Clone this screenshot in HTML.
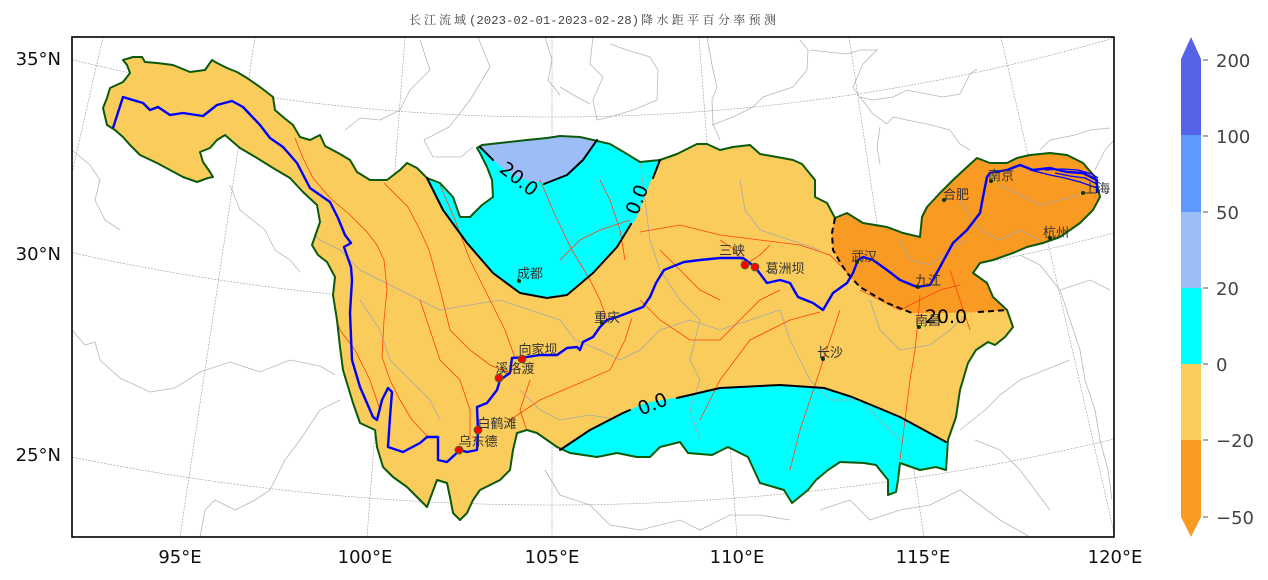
<!DOCTYPE html>
<html><head><meta charset="utf-8"><style>
html,body{margin:0;padding:0;background:#fff;}
svg{display:block;}
.ax{font-family:"DejaVu Sans","Liberation Sans",sans-serif;font-size:18px;fill:#111;}
.cb{font-family:"DejaVu Sans","Liberation Sans",sans-serif;font-size:18px;fill:#444;}
.city{font-family:"Liberation Sans","Noto Sans CJK SC",sans-serif;font-size:13px;fill:#333;}
.cl{font-family:"DejaVu Sans","Liberation Sans",sans-serif;font-size:19px;fill:#000;}
</style></head><body>
<svg width="1268" height="580" viewBox="0 0 1268 580" xmlns="http://www.w3.org/2000/svg">
<defs>
<clipPath id="plot"><rect x="72" y="37" width="1042" height="500"/></clipPath>
<clipPath id="basin"><path id="bp" d="M123,60 L133,57 L142,57 L145,62 L157,63 L173,65 L190,72 L205,70 L212,60 L217,63 L227,68 L237,72 L247,78 L260,87 L273,97 L275,110 L283,117 L293,125 L300,137 L310,140 L320,135 L325,146 L340,154 L350,160 L357,172 L370,180 L387,180 L400,170 L407,163 L417,168 L427,178 L440,183 L453,197 L460,217 L470,217 L482,205 L493,197 L492,180 L487,167 L480,153 L477,148 L482,145 L500,143 L527,140 L547,138 L560,136 L580,137 L593,140 L610,144 L627,154 L640,162 L660,160 L677,154 L697,144 L707,144 L720,150 L733,147 L750,145 L760,154 L777,157 L793,160 L802,164 L815,180 L815,197 L827,203 L835,218 L847,213 L863,223 L887,227 L903,233 L920,237 L922,217 L927,207 L940,193 L953,180 L967,167 L977,158 L990,163 L1007,163 L1017,158 L1030,155 L1050,153 L1067,155 L1083,163 L1095,177 L1100,197 L1093,210 L1080,223 L1060,237 L1043,243 L1027,247 L1013,253 L993,260 L980,263 L973,273 L987,283 L993,297 L1007,310 L1013,327 L1005,337 L995,345 L988,342 L976,350 L968,363 L960,390 L956,417 L948,440 L946,470 L936,467 L920,470 L900,463 L898,480 L896,492 L888,495 L888,480 L876,465 L864,463 L840,462 L828,470 L816,480 L808,490 L792,503 L784,490 L760,483 L748,457 L728,447 L712,455 L688,453 L680,442 L660,447 L650,457 L637,457 L617,453 L597,457 L570,453 L557,447 L547,440 L537,433 L527,430 L517,433 L513,450 L510,470 L500,480 L480,490 L473,500 L467,513 L460,520 L453,513 L450,497 L447,483 L437,480 L427,507 L420,500 L407,487 L393,477 L383,467 L377,447 L375,430 L360,423 L353,403 L343,370 L340,347 L337,320 L333,295 L335,277 L327,262 L318,255 L312,245 L320,222 L317,205 L303,192 L290,178 L273,168 L257,158 L240,148 L233,142 L225,135 L217,140 L210,148 L200,152 L203,162 L210,172 L213,177 L208,178 L197,182 L183,177 L170,170 L157,163 L140,155 L130,145 L123,137 L115,130 L107,125 L103,108 L107,98 L110,88 L123,82 L130,73 L127,65 Z"/></clipPath>
</defs>

<!-- title -->
<g font-size="12" fill="#444">
<text x="409" y="24" textLength="57" lengthAdjust="spacing" font-family="'Liberation Serif','Noto Serif CJK SC',serif">长江流域</text>
<text x="469" y="24" textLength="170" lengthAdjust="spacingAndGlyphs" font-family="'Liberation Mono',monospace">(2023-02-01-2023-02-28)</text>
<text x="641" y="24" textLength="135" lengthAdjust="spacing" font-family="'Liberation Serif','Noto Serif CJK SC',serif">降水距平百分率预测</text>
</g>

<g clip-path="url(#plot)">
<rect x="72" y="37" width="1042" height="500" fill="#fff"/>
<!-- gray province lines outside -->
<g fill="none" stroke="#b8b8b8" stroke-width="0.8">
<polyline points="478,37 490,67 470,100 457,117 449,127 424,140 433,157 461,157 473,147"/>
<polyline points="593,37 590,64 603,77 593,100 597,120 610,117 633,110 657,100 658,70 650,57 627,50 610,44"/>
<polyline points="560,87 577,97 590,104"/>
<polyline points="707,37 713,70 717,87 712,100 713,124 720,140"/>
<polyline points="712,125 733,117 753,107 763,97 793,87 807,70 808,50 800,40"/>
<polyline points="810,50 847,54 860,50 877,50 863,64 853,87 860,97 873,100 893,97 907,90 927,94 943,97 960,94 970,74 977,69"/>
<polyline points="860,97 873,114 887,124 893,117 907,120 927,124 950,130 960,144 970,150"/>
<polyline points="880,127 877,147 880,164"/>
<polyline points="545,37 552,60 548,80 560,95"/>
<polyline points="420,40 430,70 410,90 400,110 380,120 360,118 345,130"/>
<polyline points="72,330 85,345 95,342 100,360 120,378 150,392 175,388 200,372 230,362 260,372 290,360 320,366 335,375"/>
<polyline points="200,537 205,510 215,500 235,510 255,500 270,490 285,460 300,440 320,410 340,400"/>
<polyline points="545,470 560,495 590,505 610,525 640,530 680,520 700,530 730,515 760,515 790,520"/>
<polyline points="820,510 850,500 870,520 900,510 930,505 960,490 980,505 1000,520 1030,537"/>
<polyline points="1020,255 1040,265 1060,290 1070,320 1080,350 1085,380 1095,410 1100,440 1108,470 1112,500"/>
<polyline points="960,430 985,410 1000,395 1020,380 1045,370 1070,360"/>
<polyline points="1060,290 1090,280 1110,290"/>
<polyline points="975,440 1000,450 1020,470 1035,490 1050,510"/>
<polyline points="72,150 90,165 100,180 95,200 105,220 120,230"/>
<polyline points="230,185 240,210 265,230 275,250 290,260 300,272"/>
<polyline points="1040,150 1050,140 1075,135 1090,130 1110,128"/>
<polyline points="1095,170 1105,150 1114,140"/>
</g>
<!-- graticule -->
<g fill="none" stroke="#9a9a9a" stroke-width="0.6" stroke-dasharray="2,1.2">
<circle cx="552" cy="-1923" r="2040"/>
<circle cx="552" cy="-1923" r="2228"/>
<circle cx="552" cy="-1923" r="2428"/>
<line x1="103" y1="37" x2="-11" y2="537"/>
<line x1="255" y1="37" x2="180" y2="537"/>
<line x1="405" y1="37" x2="367" y2="537"/>
<line x1="552" y1="37" x2="552" y2="537"/>
<line x1="699" y1="37" x2="737" y2="537"/>
<line x1="849" y1="37" x2="924" y2="537"/>
<line x1="1001" y1="37" x2="1115" y2="537"/>
</g>

<!-- basin fill -->
<use href="#bp" fill="#f9cc5c"/>
<g clip-path="url(#basin)">
<path d="M427,178 L443,210 L467,243 L493,273 L520,293 L547,298 L567,295 L593,273 L617,247 L637,217 L650,183 L660,160 L661,110 L420,110 Z" fill="#00ffff"/>
<path d="M480,147 L490,157 L500,166 L515,176 L530,181 L547,183 L567,175 L583,160 L597,140 L600,110 L470,110 Z" fill="#9dbdf7"/>
<path d="M555,460 L560,450 L590,430 L623,413 L645,403 L680,397 L720,388 L780,385 L824,388 L852,397 L900,417 L946,442 L960,450 L960,530 L540,530 Z" fill="#00ffff"/>
<path d="M835,140 L835,218 L832,233 L833,250 L840,262 L847,273 L860,287 L887,303 L910,313 L947,313 L980,312 L1010,310 L1040,310 L1120,200 L1120,140 Z" fill="#f99a22"/>
<!-- gray lines inside -->
<g fill="none" stroke="#a8a8a8" stroke-width="0.8">
<polyline points="300,220 320,240 340,250 360,270 390,285 420,300 440,310 470,305 500,300 530,310 560,320"/>
<polyline points="560,320 575,340 600,350 620,360 640,350 660,330 690,320 720,330 750,320 780,310"/>
<polyline points="640,160 645,200 650,240 660,270 680,300 700,320"/>
<polyline points="700,320 690,360 700,380 690,410 700,440"/>
<polyline points="780,310 790,340 800,360 810,380 830,400 860,400 880,420 900,440"/>
<polyline points="870,300 880,330 900,350 930,345 950,330 965,315"/>
<polyline points="960,200 980,230 1000,240 1020,230 1040,240"/>
<polyline points="1000,185 1020,195 1040,205 1060,200 1080,195"/>
<polyline points="900,240 910,260 930,265 950,250 965,240"/>
<polyline points="360,300 380,330 390,360 410,380 430,400 440,420"/>
<polyline points="520,390 540,410 560,420 590,415 620,420"/>
<polyline points="740,180 745,210 760,230 790,240 820,250"/>
</g>
<!-- red tributaries -->
<g fill="none" stroke="#ff4010" stroke-width="0.8">
<polyline points="295,138 303,158 313,178 330,198 350,215 367,232 377,245 384,260 387,290 384,320 382,357 390,380 400,400 412,420 428,437"/>
<polyline points="384,183 408,207 420,230 429,250 441,293 450,330 470,350 490,365 510,373"/>
<polyline points="440,185 455,220 470,260 490,300 505,330 515,358"/>
<polyline points="540,180 555,215 572,250 590,280 600,300 607,320"/>
<polyline points="510,420 540,400 575,385 610,370 625,340 632,318"/>
<polyline points="640,232 680,225 720,235 760,240 800,245 830,255 850,275"/>
<polyline points="790,470 800,430 810,400 820,370 830,340 840,310"/>
<polyline points="700,420 720,380 750,340 790,320 820,312"/>
<polyline points="900,460 905,420 910,380 915,350 918,320 920,295"/>
<polyline points="330,300 340,330 355,350 370,380 380,410"/>
<polyline points="420,300 430,330 440,360 460,380 470,410 470,440"/>
<polyline points="560,260 580,240 600,230 630,220"/>
<polyline points="640,300 660,320 690,340 720,340 740,320 760,300 780,290"/>
<polyline points="720,240 735,250 745,265 760,255 770,245"/>
<polyline points="860,290 880,300 900,310 920,300 940,290 960,285"/>
<polyline points="600,180 610,200 620,230 625,260"/>
<polyline points="660,250 680,270 700,290 720,300"/>
<polyline points="530,380 520,410 530,440"/>
<polyline points="950,270 960,300 970,330"/>
</g>
</g>

<!-- basin outline -->
<use href="#bp" fill="none" stroke="#0b5a0b" stroke-width="2" stroke-linejoin="round"/>

<!-- contour lines -->
<g fill="none" stroke="#000" stroke-width="2" stroke-linejoin="round" stroke-linecap="round">
<polyline points="427,178 443,210 467,243 493,273 520,293 547,298 567,295 593,273 617,247 631,224"/>
<polyline points="653,178 660,160"/>
<polyline points="597,140 583,160 567,175 544,184"/>
<polyline points="493,160 480,147"/>
<polyline points="560,450 590,430 623,413 630,410"/>
<polyline points="677,398 720,388 780,385 824,388 852,397 900,417 946,442"/>
<polyline points="835,218 832,233 833,250 840,262 847,273 860,287 887,303 912,313" stroke-dasharray="6,4" stroke-linecap="butt"/>
<polyline points="978,312 1008,310" stroke-dasharray="6,4" stroke-linecap="butt"/>
</g>
<text class="cl" x="0" y="0" text-anchor="middle" transform="translate(643,202) rotate(-68)">0.0</text>
<text class="cl" x="0" y="0" text-anchor="middle" transform="translate(515,184) rotate(38)">20.0</text>
<text class="cl" x="0" y="0" text-anchor="middle" transform="translate(655,410) rotate(-22)">0.0</text>
<text class="cl" x="946" y="323" text-anchor="middle">20.0</text>

<!-- Yangtze river -->
<g fill="none" stroke="#0000ff" stroke-width="2.4" stroke-linejoin="round">
<polyline points="113,128 123,97 143,103 150,110 158,107 170,115 183,113 203,116 217,105 232,101 243,107 260,125 270,138 283,147 297,163 310,188 330,202 338,218 345,235 351,243 344,247 351,267 352,280 350,313 352,360 360,387 373,417 377,420 382,400 388,388 392,392 390,417 388,447 403,452 420,443 427,437 438,437 438,460 447,462 460,450 467,452 477,450 478,430 477,407 487,403 497,390 500,380 510,373 512,358 527,357 540,355 557,355 567,348 577,347 580,350 583,342 593,337 600,327 607,320 617,317 630,312 643,307 650,297 656,283 664,270 684,262 700,260 720,258 743,258 755,267 767,283 780,280 790,283 798,297 813,303 823,310 833,293 847,283 853,273 858,260 863,257 873,260 887,270 900,280 917,287 930,285 940,267 953,243 967,230 980,213 983,197 987,177 990,173 1007,170 1020,165 1033,170 1050,168 1067,172 1083,173 1097,180 1097,193"/>
</g>
<g fill="none" stroke="#0000ff" stroke-width="1.3">
<polyline points="1030,170 1050,175 1065,178 1080,182 1097,188"/>
<polyline points="1045,170 1062,169 1078,170 1092,174 1098,178"/>
<polyline points="1055,173 1070,176 1085,178 1097,184"/>
</g>

<!-- cities -->
<g fill="#053805">
<circle cx="519" cy="281" r="2"/><circle cx="602" cy="323" r="2"/>
<circle cx="857" cy="262" r="2"/><circle cx="918" cy="287" r="2"/>
<circle cx="991" cy="181" r="2"/><circle cx="944" cy="200" r="2"/>
<circle cx="1083" cy="193" r="2"/><circle cx="1050" cy="238" r="2"/>
<circle cx="919" cy="327" r="2"/><circle cx="823" cy="359" r="2"/>
</g>
<g fill="#ff0000" stroke="#2a7a2a" stroke-width="0.8">
<circle cx="522" cy="359" r="4"/><circle cx="499" cy="378" r="4"/>
<circle cx="478" cy="430" r="4"/><circle cx="459" cy="450" r="4"/>
<circle cx="745" cy="265" r="4"/><circle cx="755" cy="267" r="4"/>
</g>
<g class="city" text-anchor="middle">
<text x="530" y="278">成都</text>
<text x="607" y="322">重庆</text>
<text x="538" y="354">向家坝</text>
<text x="515" y="373">溪洛渡</text>
<text x="497" y="428">白鹤滩</text>
<text x="478" y="446">乌东德</text>
<text x="732" y="255">三峡</text>
<text x="785" y="273">葛洲坝</text>
<text x="864" y="261">武汉</text>
<text x="928" y="285">九江</text>
<text x="928" y="325">南昌</text>
<text x="830" y="357">长沙</text>
<text x="956" y="199">合肥</text>
<text x="1001" y="180">南京</text>
<text x="1097" y="193">上海</text>
<text x="1056" y="237">杭州</text>
</g>
</g>
<!-- frame -->
<rect x="72" y="37" width="1042" height="500" fill="none" stroke="#000" stroke-width="1.6"/>

<!-- axis labels -->
<g class="ax">
<text x="61" y="65" text-anchor="end">35°N</text>
<text x="61" y="260" text-anchor="end">30°N</text>
<text x="61" y="461" text-anchor="end">25°N</text>
<text x="180" y="563" text-anchor="middle">95°E</text>
<text x="365" y="563" text-anchor="middle">100°E</text>
<text x="552" y="563" text-anchor="middle">105°E</text>
<text x="737" y="563" text-anchor="middle">110°E</text>
<text x="923" y="563" text-anchor="middle">115°E</text>
<text x="1115" y="563" text-anchor="middle">120°E</text>
</g>

<!-- colorbar -->
<polygon points="1181,59 1191,37 1201,59" fill="#5563e8"/>
<rect x="1181" y="59" width="20" height="77" fill="#5563e8"/>
<rect x="1181" y="135" width="20" height="78" fill="#5e99fc"/>
<rect x="1181" y="212" width="20" height="77" fill="#9dbdf7"/>
<rect x="1181" y="288" width="20" height="77" fill="#00ffff"/>
<rect x="1181" y="364" width="20" height="77" fill="#fbcd5e"/>
<rect x="1181" y="440" width="20" height="77" fill="#f99a22"/>
<polygon points="1181,517 1191,537 1201,517" fill="#f99a22"/>
<g stroke="#555" stroke-width="1">
<line x1="1203" y1="60" x2="1208" y2="60"/><line x1="1203" y1="136" x2="1208" y2="136"/>
<line x1="1203" y1="212" x2="1208" y2="212"/><line x1="1203" y1="288" x2="1208" y2="288"/>
<line x1="1203" y1="364" x2="1208" y2="364"/><line x1="1203" y1="440" x2="1208" y2="440"/>
<line x1="1203" y1="517" x2="1208" y2="517"/>
</g>
<g class="cb">
<text x="1216" y="67">200</text>
<text x="1216" y="143">100</text>
<text x="1216" y="219">50</text>
<text x="1216" y="295">20</text>
<text x="1216" y="371">0</text>
<text x="1216" y="447">−20</text>
<text x="1216" y="524">−50</text>
</g>
</svg>
</body></html>
